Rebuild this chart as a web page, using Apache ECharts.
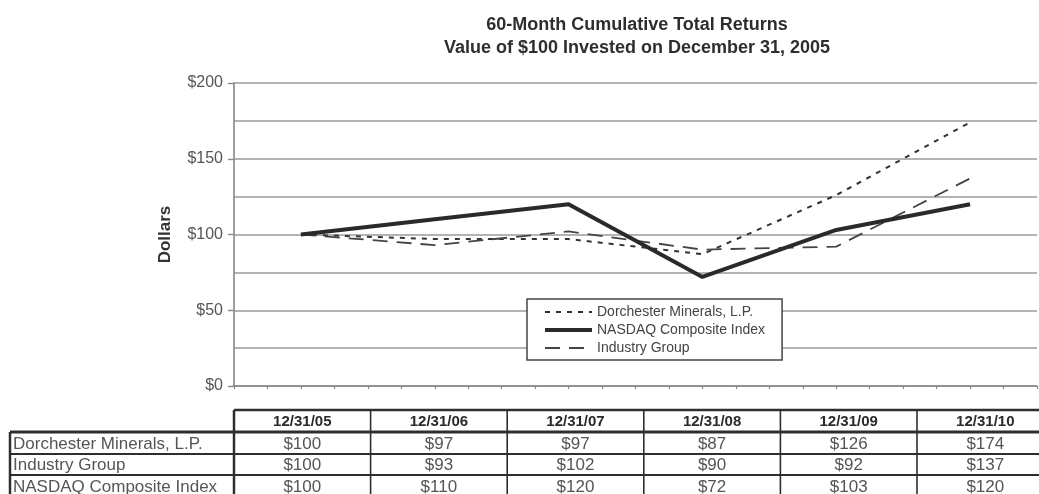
<!DOCTYPE html>
<html>
<head>
<meta charset="utf-8">
<script src="https://cdn.jsdelivr.net/npm/echarts@6/dist/echarts.min.js"></script>
<style>html,body{margin:0;padding:0;background:#fff;}#chart{width:1039px;height:494px;}</style>
</head>
<body>
<div id="chart"></div>
<script>
// ---- data ----
var categories = ['12/31/05', '12/31/06', '12/31/07', '12/31/08', '12/31/09', '12/31/10'];
var monthsSinceStart = [0, 12, 24, 36, 48, 60];
var dorchester = [100, 97, 97, 87, 126, 174];
var industryGroup = [100, 93, 102, 90, 92, 137];
var nasdaq = [100, 110, 120, 72, 103, 120];
var seriesNames = ['Dorchester Minerals, L.P.', 'NASDAQ Composite Index', 'Industry Group'];
var tableRowNames = ['Dorchester Minerals, L.P.', 'Industry Group', 'NASDAQ Composite Index'];
var titleLines = ['60-Month Cumulative Total Returns', 'Value of $100 Invested on December 31, 2005'];
var yAxisName = 'Dollars';

var FONT = '"Liberation Sans", Arial, Helvetica, sans-serif';

function pairs(vals) {
  return vals.map(function (v, i) { return [monthsSinceStart[i], v]; });
}

// ---- table graphics ----
var tableRows = [dorchester, industryGroup, nasdaq];
var tLeft = 234, colW = 136.6, labelLeft = 10, rightEdge = 1039;
var yTop = 410, yHead = 432, rowYs = [432, 454, 475, 497];
var g = [];
var dark = '#2e2e2e';
function hline(x1, x2, y, w) {
  g.push({ type: 'line', shape: { x1: x1, y1: y, x2: x2, y2: y }, style: { stroke: dark, lineWidth: w } });
}
function vline(x, y1, y2, w) {
  g.push({ type: 'line', shape: { x1: x, y1: y1, x2: x, y2: y2 }, style: { stroke: dark, lineWidth: w } });
}
hline(tLeft, rightEdge, yTop, 2.5);
hline(labelLeft, rightEdge, yHead, 3);
hline(labelLeft, rightEdge, rowYs[1], 2);
hline(labelLeft, rightEdge, rowYs[2], 2);
vline(labelLeft, yHead, 494, 2.5);
vline(tLeft, yTop, 494, 2.5);
for (var c = 1; c < categories.length; c++) vline(tLeft + colW * c, yTop, 494, 1.6);

categories.forEach(function (cat, i) {
  g.push({ type: 'text', x: tLeft + colW * (i + 0.5), y: (yTop + yHead) / 2 + 1,
    style: { text: cat, font: 'bold 15px ' + FONT, fill: '#2a2a2a', textAlign: 'center', textVerticalAlign: 'middle' } });
});
tableRowNames.forEach(function (name, r) {
  var cy = (rowYs[r] + rowYs[r + 1]) / 2 + 1;
  g.push({ type: 'text', x: 13, y: cy,
    style: { text: name, font: '17px ' + FONT, fill: '#555', textAlign: 'left', textVerticalAlign: 'middle' } });
  tableRows[r].forEach(function (v, i) {
    g.push({ type: 'text', x: tLeft + colW * (i + 0.5), y: cy,
      style: { text: '$' + v, font: '17px ' + FONT, fill: '#555', textAlign: 'center', textVerticalAlign: 'middle' } });
  });
});
g.push({ type: 'text', x: 637, y: 13.5,
  style: { text: titleLines.join('\n'), font: 'bold 18px ' + FONT, fill: '#2e2e2e', textAlign: 'center', textVerticalAlign: 'top', lineHeight: 23 } });

var gridLine = { color: '#9a9a9a', width: 1.6 };
var styles = {};
styles[seriesNames[0]] = { color: '#333', width: 2, type: [5, 6] };
styles[seriesNames[1]] = { color: '#2a2a2a', width: 4, type: 'solid' };
styles[seriesNames[2]] = { color: '#444', width: 1.8, type: [15, 9] };

var chart = echarts.init(document.getElementById('chart'), null, { renderer: 'canvas' });
chart.setOption({
  animation: false,
  backgroundColor: '#fff',
  textStyle: { fontFamily: FONT },
  grid: { left: 234, right: 2, top: 83, bottom: 108, containLabel: false },
  legend: {
    orient: 'vertical', left: 527, top: 299,
    data: seriesNames.map(function (n) { return { name: n, lineStyle: styles[n] }; }),
    padding: [6, 17, 5, 16], itemGap: 4, itemWidth: 47, itemHeight: 14,
    borderColor: '#444', borderWidth: 1.5, backgroundColor: '#fff',
    itemStyle: { opacity: 0 },
    textStyle: { fontSize: 14, color: '#444', fontFamily: FONT }
  },
  xAxis: {
    type: 'value', min: -6, max: 66, interval: 3,
    axisLabel: { show: false },
    axisLine: { show: true, onZero: false, lineStyle: { color: '#888', width: 1.6 } },
    axisTick: { show: true, length: 3, lineStyle: { color: '#888', width: 1.2 } },
    splitLine: { show: false }
  },
  yAxis: {
    type: 'value', min: 0, max: 200, interval: 50,
    name: yAxisName, nameLocation: 'middle', nameRotate: 90, nameGap: 60,
    nameTextStyle: { fontSize: 17, fontWeight: 'bold', color: '#333', fontFamily: FONT },
    axisLabel: { formatter: function (v) { return '$' + v; }, fontSize: 16, color: '#555', margin: 11 },
    axisLine: { show: true, onZero: false, lineStyle: { color: '#888', width: 1.6 } },
    axisTick: { show: true, length: 6, lineStyle: { color: '#888', width: 1.4 } },
    splitLine: { show: true, lineStyle: gridLine },
    minorTick: { show: false, splitNumber: 2 },
    minorSplitLine: { show: true, lineStyle: gridLine }
  },
  series: [
    { name: seriesNames[0], type: 'line', data: pairs(dorchester), symbol: 'none', z: 3,
      lineStyle: styles[seriesNames[0]], itemStyle: { color: '#333' } },
    { name: seriesNames[2], type: 'line', data: pairs(industryGroup), symbol: 'none', z: 3,
      lineStyle: styles[seriesNames[2]], itemStyle: { color: '#444' } },
    { name: seriesNames[1], type: 'line', data: pairs(nasdaq), symbol: 'none', z: 4,
      lineStyle: styles[seriesNames[1]], itemStyle: { color: '#2a2a2a' } }
  ],
  graphic: g
});
</script>
</body>
</html>
